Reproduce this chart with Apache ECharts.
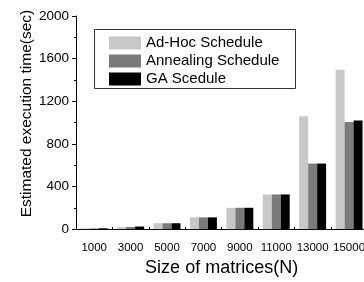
<!DOCTYPE html>
<html>
<head>
<meta charset="utf-8">
<script src="https://cdn.jsdelivr.net/npm/echarts@6/dist/echarts.min.js"></script>
<style>
  html, body { margin: 0; padding: 0; background: #fff; overflow: hidden; }
  #chart { width: 368px; height: 282px; }
</style>
</head>
<body>
<div id="chart"></div>
<script>
// matrix sizes on x axis
var sizes = ['1000', '3000', '5000', '7000', '9000', '11000', '13000', '15000'];
// estimated execution time (sec)
var adHoc = [6, 18, 55, 110, 200, 325, 1060, 1495];
var annealing = [6, 20, 55, 110, 200, 325, 615, 1005];
var gaSchedule = [8, 24, 55, 110, 200, 325, 615, 1020];
var yTicks = [0, 400, 800, 1200, 1600, 2000];

var myChart = echarts.init(document.getElementById('chart'));

var font = 'Liberation Sans, Arial, sans-serif';

function bar(name, data, color) {
    return {
        type: 'bar',
        name: name,
        data: data,
        barGap: 0,
        barCategoryGap: '26%',
        itemStyle: { color: color }
    };
}

var option = {
    animation: false,
    textStyle: { fontFamily: font },
    // frame around the legend, drawn by hand (legend padding does not widen its box)
    graphic: [{
        type: 'rect',
        left: 92,
        top: 27,
        shape: { width: 201, height: 59 },
        style: { fill: 'none', stroke: '#333', lineWidth: 1 },
        z: 10
    }],
    legend: {
        orient: 'vertical',
        left: 104,
        top: 30,
        padding: 5,
        itemWidth: 32,
        itemHeight: 13,
        itemGap: 2,
        icon: 'rect',
        textStyle: { fontSize: 15, lineHeight: 16, color: '#000', fontFamily: font },
        data: ['Ad-Hoc Schedule', 'Annealing Schedule', 'GA Scedule']
    },
    grid: {
        left: 76,
        top: 16,
        bottom: 50,
        right: 0,
        containLabel: false
    },
    xAxis: {
        type: 'category',
        data: sizes,
        name: 'Size of matrices(N)',
        nameLocation: 'middle',
        nameGap: 27,
        nameTextStyle: { fontSize: 18, color: '#000', fontFamily: font },
        axisLine: { lineStyle: { color: '#000', width: 1 } },
        axisTick: { show: true, length: 2, inside: true, lineStyle: { color: '#000' } },
        axisLabel: { fontSize: 11.5, color: '#000', margin: 13, interval: 0 }
    },
    yAxis: {
        type: 'value',
        min: yTicks[0],
        max: yTicks[yTicks.length - 1],
        interval: 400,
        name: 'Estimated execution time(sec)',
        nameLocation: 'middle',
        nameGap: 41,
        nameMoveOverlap: false,
        nameTextStyle: { fontSize: 15.5, color: '#000', fontFamily: font, padding: [0, 0, 0, 18] },
        axisLine: { show: true, lineStyle: { color: '#000', width: 1 } },
        axisTick: { show: true, length: 4, lineStyle: { color: '#000' } },
        minorTick: { show: true, splitNumber: 2, length: 2, lineStyle: { color: '#000' } },
        splitLine: { show: false },
        axisLabel: { fontSize: 13.5, color: '#000', margin: 7, formatter: function (v) { return String(v); } }
    },
    series: [
        bar('Ad-Hoc Schedule', adHoc, '#c8c8c8'),
        bar('Annealing Schedule', annealing, '#7a7a7a'),
        bar('GA Scedule', gaSchedule, '#000000')
    ]
};

myChart.setOption(option);
</script>
</body>
</html>
